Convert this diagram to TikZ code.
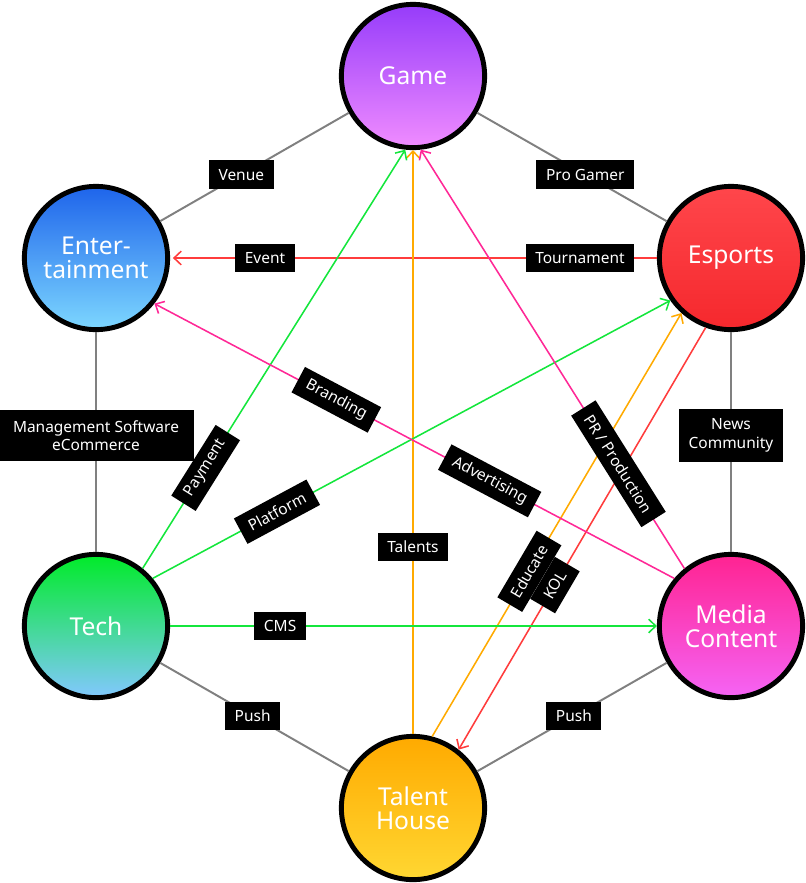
\documentclass[tikz,border=0pt]{standalone}
\usepackage{fontspec}
\setmainfont{Noto Sans}
\usetikzlibrary{arrows.meta}

\definecolor{linkgray}{RGB}{128,128,128}
\definecolor{redline}{RGB}{255,60,60}
\definecolor{greenline}{RGB}{20,230,60}
\definecolor{pinkline}{RGB}{255,40,150}
\definecolor{orangeline}{RGB}{255,170,0}
\definecolor{gameTop}{RGB}{150,60,250}
\definecolor{gameBot}{RGB}{240,140,255}
\definecolor{entTop}{RGB}{30,100,235}
\definecolor{entBot}{RGB}{125,215,255}
\definecolor{espTop}{RGB}{255,70,75}
\definecolor{espBot}{RGB}{245,40,45}
\definecolor{techTop}{RGB}{0,235,40}
\definecolor{techBot}{RGB}{130,200,255}
\definecolor{medTop}{RGB}{255,35,145}
\definecolor{medBot}{RGB}{245,100,245}
\definecolor{talTop}{RGB}{255,170,0}
\definecolor{talBot}{RGB}{255,215,50}

\begin{document}
\begin{tikzpicture}[x=0.025cm, y=-0.025cm,
  hub/.style={circle, draw=black, line width=3.5pt, minimum size=3.58cm, inner sep=0pt,
    text=white, align=center, font=\fontsize{17.5}{17}\selectfont},
  link/.style={draw=linkgray, line width=1.4pt},
  lbl/.style={fill=black, text=white, inner xsep=0.24cm, inner ysep=0pt, minimum height=0.72cm,
    align=center, font=\fontsize{11}{13}\selectfont},
  flow/.style={line width=1.1pt, -{Straight Barb[length=1.8mm,width=3.4mm]}}]
\useasboundingbox (0,0) rectangle (806,883);

\node[hub, top color=gameTop, bottom color=gameBot] (game) at (413,76) {Game};
\node[hub, top color=entTop, bottom color=entBot] (ent) at (96,258) {Enter-\\tainment};
\node[hub, top color=espTop, bottom color=espBot] (esports) at (731,258) {Esports};
\node[hub, top color=techTop, bottom color=techBot] (tech) at (96,626) {Tech};
\node[hub, top color=medTop, bottom color=medBot] (media) at (731,626) {Media\\Content};
\node[hub, top color=talTop, bottom color=talBot] (talent) at (413,808) {Talent\\House};

\draw[link] (game) -- node[lbl, pos=0.57] {Venue} (ent);
\draw[link] (game) -- node[lbl, pos=0.57] {Pro Gamer} (esports);
\draw[link] (ent) -- node[lbl, pos=0.47, inner ysep=0.25cm, inner xsep=0.38cm] {Management Software\\eCommerce} (tech);
\draw[link] (esports) -- node[lbl, pos=0.47, inner ysep=0.25cm] {News\\Community} (media);
\draw[link] (tech) -- node[lbl, pos=0.49] {Push} (talent);
\draw[link] (media) -- node[lbl, pos=0.49] {Push} (talent);

\draw[flow, redline, shorten >=2pt] (esports) -- node[lbl, pos=0.158] {Tournament} node[lbl, pos=0.805] {Event} (ent);
\draw[flow, orangeline] (talent) -- node[lbl, pos=0.32] {Talents} (game);
\draw[flow, orangeline] (talent.75) -- node[lbl, sloped, pos=0.39] {Educate} (esports.228);
\draw[flow, redline] (esports.250) -- node[lbl, sloped, pos=0.61] {KOL} (talent.52);
\draw[flow, greenline] (tech.51.5) -- node[lbl, sloped, pos=0.24] {Payment} (game.-96);
\draw[flow, greenline] (tech.40.7) -- node[lbl, sloped, pos=0.24] {Platform} (esports.215);
\draw[flow, greenline] (tech) -- node[lbl, pos=0.226] {CMS} (media);
\draw[flow, pinkline] (media.140) -- node[lbl, sloped, pos=0.355] {Advertising} node[lbl, sloped, pos=0.65] {Branding} (ent.-38);
\draw[flow, pinkline] (media.129) -- node[lbl, sloped, pos=0.25] {PR / Production} (game.-84);
\end{tikzpicture}
\end{document}
